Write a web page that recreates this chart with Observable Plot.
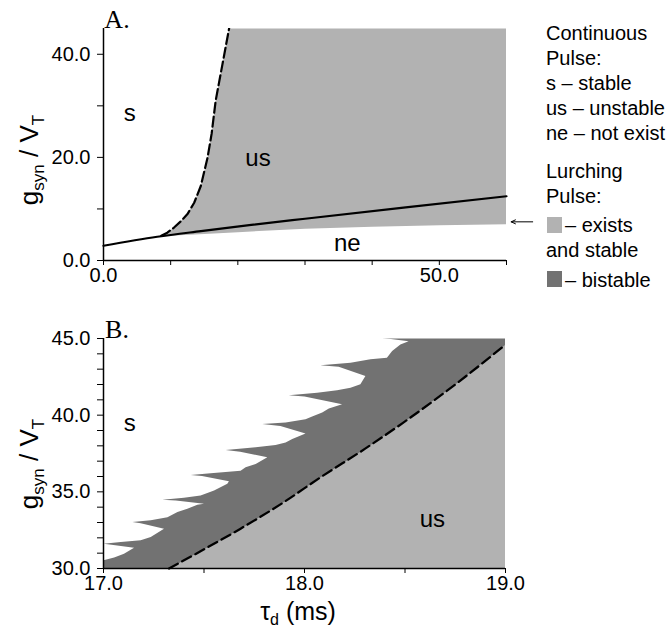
<!DOCTYPE html>
<html><head><meta charset="utf-8">
<script src="https://cdn.jsdelivr.net/npm/d3@7"></script>
<script src="https://cdn.jsdelivr.net/npm/@observablehq/plot@0.6"></script>
<style>
body{margin:0;background:#fff;}
#wrap{position:relative;width:668px;height:638px;font-family:"Liberation Sans",Arial,sans-serif;}
#wrap > svg{display:block}
#legend{position:absolute;left:0;top:0;pointer-events:none}
</style></head><body><div id="wrap"></div>
<script>
// ---------- Panel A data ----------
const xTicksA = [0, 10, 20, 30, 40, 50, 60];
const xLabelsA = [0, 50];
const yTicksA = [0, 10, 20, 30, 40];
const yLabelsA = [0, 20, 40];
// solid line (continuous pulse existence boundary)
const solidA_tau = [0, 8, 14.5, 22, 30, 45, 60];
const solidA_g   = [2.86, 4.6, 5.7, 6.9, 8.1, 10.3, 12.46];
// dashed line (stability boundary)
const dashedA_tau = [8.6, 9.5, 10.5, 11.5, 12.5, 13.5, 14.5, 15.5, 16.1, 16.7, 17.7, 18.7];
const dashedA_g   = [4.8, 5.4, 6.4, 7.6, 9.0, 11.2, 14.5, 20.0, 24.6, 31.0, 38.0, 45.0];
// lower edge of lurching-pulse region
const lowerA_tau = [60, 50, 40, 30, 20, 15, 12, 8.6];
const lowerA_g   = [7.05, 6.85, 6.55, 6.15, 5.5, 5.15, 4.95, 4.7];
const labelA_text = ["s", "us", "ne"];
const labelA_tau  = [3.9, 23.0, 36.3];
const labelA_g    = [28.6, 19.9, 3.4];
const arrowA_tau = [63.9, 60.7];
const arrowA_g = 7.5;

// ---------- Panel B data ----------
const xTicksB = [17, 17.5, 18, 18.5, 19];
const xLabelsB = [17, 18, 19];
const yTicksB = d3.range(30, 45.5, 1);
const yLabelsB = [30, 35, 40, 45];
const dashedB_tau = [17.326, 17.5, 17.682, 17.9, 18.08, 18.3, 18.49, 18.75, 19.0];
const dashedB_g   = [30.0, 31.25, 32.6, 34.35, 35.95, 37.8, 39.5, 42.0, 44.6];
// jagged upper edge of the bistable region
const bistB_tau = [17.0, 17.0, 17.053, 17.102, 17.152, 17.04, 17.0, 17.086, 17.185, 17.235,
  17.301, 17.185, 17.144, 17.235, 17.318, 17.368, 17.417, 17.467, 17.5, 17.36,
  17.293, 17.4, 17.483, 17.55, 17.616, 17.624, 17.49, 17.434, 17.533, 17.682,
  17.707, 17.757, 17.815, 17.68, 17.608, 17.757, 17.856, 17.906, 17.939, 18.005,
  17.88, 17.79, 17.906, 18.005, 18.038, 18.088, 18.121, 18.187, 18.0, 17.922,
  18.063, 18.162, 18.229, 18.278, 18.303, 18.17, 18.079, 18.229, 18.328, 18.41,
  18.436, 18.477, 18.518, 18.43, 18.386];
const bistB_g = [30.0, 30.54, 30.71, 30.97, 31.36, 31.55, 31.62, 31.73, 31.84, 32.05,
  32.6, 32.95, 33.03, 33.14, 33.35, 33.68, 33.9, 34.16, 34.22, 34.44,
  34.48, 34.61, 34.76, 35.08, 35.52, 35.69, 36.04, 36.1, 36.21, 36.38,
  36.6, 36.82, 37.25, 37.62, 37.73, 37.9, 38.05, 38.22, 38.44, 38.8,
  39.3, 39.42, 39.52, 39.74, 39.91, 40.17, 40.43, 40.71, 41.22, 41.3,
  41.47, 41.62, 41.79, 42.01, 42.55, 43.15, 43.25, 43.42, 43.64, 43.74,
  44.18, 44.61, 44.82, 44.96, 45.0];
const labelB_text = ["s", "us"];
const labelB_tau = [17.13, 18.636];
const labelB_g = [39.5, 33.2];

// ---------- Legend ----------
const legendLines = ["Continuous", "Pulse:", "s \u2013 stable", "us \u2013 unstable", "ne \u2013 not exist",
  "Lurching", "Pulse:", "\u2013 exists", "and stable", "\u2013 bistable"];

const LIGHT = "#b2b2b2", DARK = "#727272";
const FONT = '"Liberation Sans", Arial, sans-serif';
const pts = (xs, ys) => xs.map((x, i) => ({x, y: ys[i]}));

// ---------- Build panel A ----------
const domXA = [0, 60], domYA = [0, 45];
const polyA = [...pts(dashedA_tau, dashedA_g), {x: domXA[1], y: domYA[1]}, ...pts(lowerA_tau, lowerA_g)];
const plotA = Plot.plot({
  width: 540, height: 290, marginLeft: 103, marginRight: 34, marginTop: 28, marginBottom: 30,
  x: {domain: domXA}, y: {domain: domYA},
  style: {fontFamily: FONT, fontSize: "20px", background: "white", overflow: "visible", color: "black"},
  marks: [
    Plot.line(polyA, {x: "x", y: "y", fill: LIGHT, stroke: "none", clip: true}),
    Plot.line(pts(solidA_tau, solidA_g), {x: "x", y: "y", stroke: "black", strokeWidth: 2.2, curve: "monotone-x"}),
    Plot.line(pts(dashedA_tau, dashedA_g), {x: "x", y: "y", stroke: "black", strokeWidth: 2.2, strokeDasharray: "10,4", clip: true}),
    Plot.ruleX([domXA[0]], {stroke: "black", strokeWidth: 1.5}),
    Plot.ruleY([domYA[0]], {stroke: "black", strokeWidth: 1.5}),
    Plot.axisX({ticks: xTicksA, tickFormat: d => xLabelsA.includes(d) ? d.toFixed(1) : "", tickSize: 5, tickPadding: 2, label: null, fontSize: 20}),
    Plot.axisY({ticks: yTicksA, tickFormat: d => yLabelsA.includes(d) ? d.toFixed(1) : "", tickSize: 6, tickPadding: 7, label: null, fontSize: 20}),
    Plot.text(labelA_text, {x: (d, i) => labelA_tau[i], y: (d, i) => labelA_g[i], text: d => d, fontSize: 24, fill: "black"}),
    Plot.arrow([0], {x1: () => arrowA_tau[0], x2: () => arrowA_tau[1], y1: () => arrowA_g, y2: () => arrowA_g, stroke: "black", strokeWidth: 1, headLength: 7, headAngle: 50})
  ]
});

// ---------- Build panel B ----------
const domXB = [17, 19], domYB = [30, 45];
const polyDark = [...pts(bistB_tau, bistB_g), {x: domXB[1], y: domYB[1]}, {x: domXB[1], y: domYB[0]}];
const polyLight = [...pts(dashedB_tau, dashedB_g), {x: domXB[1], y: domYB[0]}];
const plotB = Plot.plot({
  width: 540, height: 348, marginLeft: 103, marginRight: 35, marginTop: 48, marginBottom: 70,
  x: {domain: domXB}, y: {domain: domYB},
  style: {fontFamily: FONT, fontSize: "20px", background: "white", overflow: "visible", color: "black"},
  marks: [
    Plot.line(polyDark, {x: "x", y: "y", fill: DARK, stroke: "none", clip: true}),
    Plot.line(polyLight, {x: "x", y: "y", fill: LIGHT, stroke: "none", clip: true}),
    Plot.line(pts(dashedB_tau, dashedB_g), {x: "x", y: "y", stroke: "black", strokeWidth: 2.3, strokeDasharray: "10,5", curve: "monotone-x"}),
    Plot.ruleX([domXB[0]], {stroke: "black", strokeWidth: 1.5}),
    Plot.ruleY([domYB[0]], {stroke: "black", strokeWidth: 1.5}),
    Plot.axisX({ticks: xTicksB, tickFormat: d => xLabelsB.includes(d) ? d.toFixed(1) : "", tickSize: 5, tickPadding: 2, label: null, fontSize: 20}),
    Plot.axisY({ticks: yTicksB, tickFormat: d => yLabelsB.includes(d) ? d.toFixed(1) : "", tickSize: 6, tickPadding: 7, label: null, fontSize: 20}),
    Plot.text(labelB_text, {x: (d, i) => labelB_tau[i], y: (d, i) => labelB_g[i], text: d => d, fontSize: 24, fill: "black"})
  ]
});

const wrap = document.getElementById("wrap");
wrap.appendChild(plotA);
wrap.appendChild(plotB);

// ---------- Overlay texts ----------
function yLabel(svg, x, y) {
  const t = d3.select(svg).append("text")
    .attr("transform", `translate(${x},${y}) rotate(-90)`)
    .attr("text-anchor", "middle").attr("font-family", FONT).attr("font-size", 26).attr("fill", "black");
  t.append("tspan").text("g");
  t.append("tspan").attr("font-size", 17).attr("dy", 6).text("syn");
  t.append("tspan").attr("dy", -6).text(" / V");
  t.append("tspan").attr("font-size", 17).attr("dy", 6).text("T");
}
function panelTag(svg, x, y, s) {
  d3.select(svg).append("text").attr("x", x).attr("y", y)
    .attr("font-family", '"Liberation Serif", "Times New Roman", serif').attr("font-size", 26).attr("fill", "black").text(s);
}
yLabel(plotA, 38, 160);
yLabel(plotB, 38, 174);
panelTag(plotA, 117, 28, "A.");
panelTag(plotB, 117, 48, "B.");
{
  const t = d3.select(plotB).append("text").attr("x", 298).attr("y", 330)
    .attr("text-anchor", "middle").attr("font-family", FONT).attr("font-size", 25).attr("fill", "black");
  t.append("tspan").text("\u03c4");
  t.append("tspan").attr("font-size", 16).attr("dy", 5).text("d");
  t.append("tspan").attr("dy", -5).text(" (ms)");
}

// ---------- Legend ----------
const leg = d3.select(wrap).append("svg").attr("id", "legend").attr("width", 668).attr("height", 300);
const baselines = [40, 65, 90, 115, 140, 178, 203, 232, 257, 287];
const xOff = [546, 546, 546, 546, 546, 546, 546, 565, 546, 565];
leg.selectAll("text").data(legendLines).join("text")
  .attr("x", (d, i) => xOff[i]).attr("y", (d, i) => baselines[i])
  .attr("font-family", FONT).attr("font-size", 20).attr("fill", "black").text(d => d);
leg.append("rect").attr("x", 547).attr("y", 217).attr("width", 15).attr("height", 16).attr("fill", LIGHT);
leg.append("rect").attr("x", 547).attr("y", 271).attr("width", 15).attr("height", 16).attr("fill", DARK);
</script></body></html>
